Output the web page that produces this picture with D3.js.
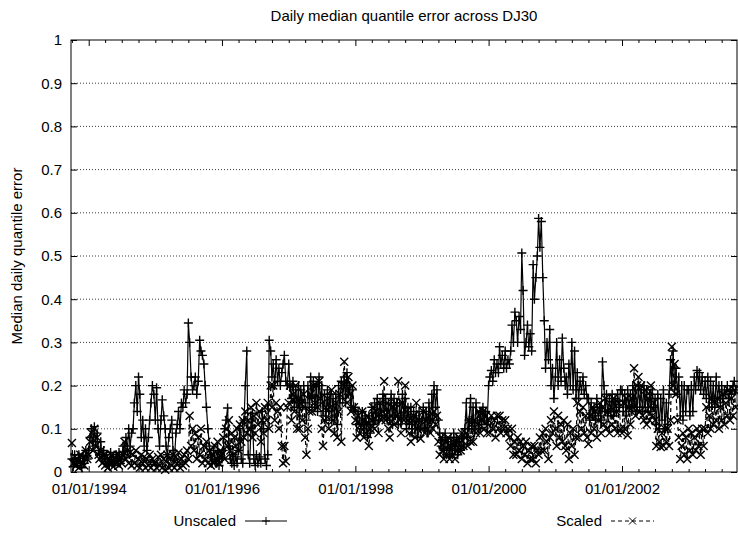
<!DOCTYPE html>
<html>
<head>
<meta charset="utf-8">
<script src="https://cdn.jsdelivr.net/npm/d3@7"></script>
<style>
  html, body { margin: 0; padding: 0; background: #fff; }
  svg { display: block; font-family: "Liberation Sans", Arial, Helvetica, sans-serif; }
</style>
</head>
<body>
<svg id="chart" width="738" height="533"></svg>
<script>
// Median daily quantile error across DJ30, read four times a month (days 1, 8, 16, 24).
// Each yearly array starts in January, except 1993 which starts in October.
const unscaled1993 = [0.03, 0.012, 0.04, 0.02, 0.015, 0.04, 0.025, 0.01, 0.035, 0.02, 0.05, 0.03];
const unscaled1994 = [0.05, 0.08, 0.1, 0.06, 0.105, 0.07, 0.09, 0.05, 0.04, 0.07, 0.03, 0.05,
  0.02, 0.04, 0.025, 0.015, 0.045, 0.02, 0.035, 0.015, 0.04, 0.025, 0.045, 0.02,
  0.03, 0.06, 0.04, 0.08, 0.05, 0.1, 0.06, 0.09, 0.1, 0.16, 0.2, 0.14,
  0.22, 0.18, 0.08, 0.12, 0.06, 0.1, 0.05, 0.08, 0.12, 0.16, 0.2, 0.18];
const unscaled1995 = [0.12, 0.195, 0.1, 0.06, 0.12, 0.167, 0.13, 0.1, 0.06, 0.04, 0.08, 0.1,
  0.12, 0.05, 0.03, 0.09, 0.11, 0.14, 0.1, 0.16, 0.15, 0.19, 0.16, 0.18,
  0.345, 0.3, 0.22, 0.19, 0.2, 0.22, 0.18, 0.21, 0.305, 0.28, 0.27, 0.25,
  0.2, 0.15, 0.1, 0.06, 0.04, 0.02, 0.05, 0.03, 0.02, 0.045, 0.015, 0.04];
const unscaled1996 = [0.03, 0.05, 0.1, 0.12, 0.148, 0.06, 0.03, 0.02, 0.04, 0.015, 0.035, 0.02,
  0.05, 0.1, 0.03, 0.02, 0.12, 0.2, 0.28, 0.04, 0.02, 0.1, 0.136, 0.03,
  0.015, 0.04, 0.02, 0.035, 0.02, 0.14, 0.1, 0.03, 0.015, 0.04, 0.305, 0.28,
  0.22, 0.25, 0.2, 0.26, 0.21, 0.24, 0.2, 0.23, 0.25, 0.27, 0.21, 0.2];
const unscaled1997 = [0.25, 0.2, 0.17, 0.21, 0.15, 0.19, 0.16, 0.2, 0.13, 0.19, 0.15, 0.2,
  0.16, 0.12, 0.2, 0.15, 0.22, 0.17, 0.21, 0.15, 0.2, 0.14, 0.22, 0.16,
  0.2, 0.13, 0.18, 0.12, 0.19, 0.14, 0.18, 0.12, 0.17, 0.13, 0.18, 0.11,
  0.2, 0.16, 0.21, 0.17, 0.22, 0.16, 0.23, 0.18, 0.2, 0.15, 0.19, 0.14];
const unscaled1998 = [0.15, 0.11, 0.14, 0.12, 0.1, 0.14, 0.09, 0.13, 0.11, 0.08, 0.13, 0.09,
  0.15, 0.11, 0.16, 0.12, 0.17, 0.12, 0.16, 0.13, 0.18, 0.13, 0.17, 0.12,
  0.16, 0.12, 0.18, 0.11, 0.17, 0.13, 0.16, 0.11, 0.16, 0.12, 0.18, 0.13,
  0.17, 0.1, 0.15, 0.11, 0.15, 0.09, 0.14, 0.1, 0.13, 0.08, 0.14, 0.1];
const unscaled1999 = [0.12, 0.15, 0.1, 0.14, 0.09, 0.16, 0.12, 0.18, 0.13, 0.2, 0.15, 0.19,
  0.12, 0.09, 0.06, 0.08, 0.05, 0.09, 0.04, 0.07, 0.05, 0.08, 0.04, 0.09,
  0.05, 0.08, 0.04, 0.07, 0.05, 0.09, 0.06, 0.1, 0.16, 0.08, 0.12, 0.17,
  0.1, 0.15, 0.09, 0.16, 0.12, 0.1, 0.14, 0.11, 0.15, 0.12, 0.14, 0.11];
const unscaled2000 = [0.2, 0.22, 0.235, 0.21, 0.26, 0.23, 0.25, 0.23, 0.29, 0.25, 0.27, 0.24,
  0.28, 0.24, 0.26, 0.25, 0.28, 0.34, 0.3, 0.37, 0.35, 0.3, 0.36, 0.33,
  0.507, 0.42, 0.27, 0.3, 0.34, 0.29, 0.32, 0.28, 0.48, 0.4, 0.45, 0.5,
  0.587, 0.52, 0.58, 0.45, 0.35, 0.24, 0.3, 0.26, 0.33, 0.2, 0.24, 0.17];
const unscaled2001 = [0.22, 0.3, 0.2, 0.26, 0.21, 0.31, 0.24, 0.2, 0.22, 0.18, 0.25, 0.2,
  0.3, 0.19, 0.28, 0.17, 0.23, 0.17, 0.21, 0.19, 0.22, 0.18, 0.2, 0.17,
  0.17, 0.12, 0.16, 0.13, 0.15, 0.12, 0.17, 0.13, 0.15, 0.12, 0.255, 0.2,
  0.14, 0.18, 0.13, 0.17, 0.14, 0.18, 0.13, 0.17, 0.14, 0.18, 0.15, 0.19];
const unscaled2002 = [0.19, 0.14, 0.18, 0.13, 0.19, 0.15, 0.18, 0.14, 0.2, 0.15, 0.19, 0.14,
  0.2, 0.15, 0.19, 0.14, 0.2, 0.15, 0.19, 0.14, 0.18, 0.14, 0.19, 0.15,
  0.17, 0.11, 0.18, 0.1, 0.17, 0.12, 0.19, 0.1, 0.16, 0.11, 0.18, 0.26,
  0.2, 0.28, 0.19, 0.24, 0.18, 0.22, 0.13, 0.2, 0.12, 0.2, 0.14, 0.19];
const unscaled2003 = [0.19, 0.13, 0.2, 0.14, 0.22, 0.19, 0.235, 0.2, 0.23, 0.19, 0.22, 0.18,
  0.21, 0.17, 0.22, 0.15, 0.21, 0.16, 0.2, 0.15, 0.22, 0.17, 0.2, 0.16,
  0.2, 0.17, 0.19, 0.18, 0.2, 0.17, 0.19, 0.18, 0.2, 0.21, 0.19];

const scaled1993 = [0.067, 0.02, 0.035, 0.015, 0.03, 0.01, 0.04, 0.02, 0.035, 0.015, 0.05, 0.03];
const scaled1994 = [0.04, 0.07, 0.09, 0.05, 0.1, 0.06, 0.08, 0.04, 0.03, 0.05, 0.02, 0.04,
  0.015, 0.035, 0.01, 0.03, 0.02, 0.04, 0.012, 0.03, 0.02, 0.04, 0.015, 0.035,
  0.02, 0.04, 0.07, 0.03, 0.05, 0.02, 0.045, 0.015, 0.04, 0.02, 0.05, 0.015,
  0.03, 0.01, 0.04, 0.02, 0.035, 0.01, 0.03, 0.015, 0.04, 0.01, 0.03, 0.02];
const scaled1995 = [0.02, 0.01, 0.035, 0.015, 0.04, 0.01, 0.03, 0.005, 0.025, 0.04, 0.01, 0.03,
  0.015, 0.04, 0.01, 0.035, 0.02, 0.045, 0.01, 0.03, 0.015, 0.04, 0.02, 0.05,
  0.03, 0.13, 0.06, 0.1, 0.05, 0.09, 0.03, 0.08, 0.04, 0.1, 0.02, 0.06,
  0.03, 0.07, 0.02, 0.05, 0.015, 0.04, 0.02, 0.06, 0.03, 0.07, 0.02, 0.05];
const scaled1996 = [0.04, 0.08, 0.03, 0.1, 0.06, 0.12, 0.05, 0.09, 0.04, 0.08, 0.06, 0.1,
  0.05, 0.11, 0.07, 0.12, 0.08, 0.14, 0.09, 0.12, 0.1, 0.15, 0.08, 0.13,
  0.09, 0.16, 0.11, 0.14, 0.07, 0.12, 0.09, 0.15, 0.12, 0.16, 0.1, 0.2,
  0.15, 0.2, 0.12, 0.16, 0.14, 0.1, 0.15, 0.06, 0.02, 0.06, 0.025, 0.15];
const scaled1997 = [0.16, 0.2, 0.12, 0.18, 0.14, 0.2, 0.1, 0.17, 0.1, 0.16, 0.12, 0.18,
  0.08, 0.04, 0.1, 0.14, 0.18, 0.14, 0.2, 0.16, 0.2, 0.15, 0.21, 0.17,
  0.1, 0.06, 0.12, 0.15, 0.17, 0.1, 0.15, 0.19, 0.12, 0.09, 0.16, 0.08,
  0.14, 0.18, 0.07, 0.2, 0.255, 0.2, 0.16, 0.22, 0.18, 0.14, 0.2, 0.15];
const scaled1998 = [0.12, 0.08, 0.13, 0.09, 0.11, 0.14, 0.08, 0.12, 0.09, 0.13, 0.06, 0.1,
  0.12, 0.15, 0.1, 0.14, 0.13, 0.09, 0.16, 0.12, 0.14, 0.21, 0.12, 0.16,
  0.1, 0.08, 0.13, 0.15, 0.11, 0.16, 0.13, 0.21, 0.12, 0.09, 0.16, 0.12,
  0.2, 0.14, 0.12, 0.09, 0.07, 0.12, 0.13, 0.08, 0.16, 0.1, 0.12, 0.077];
const scaled1999 = [0.1, 0.14, 0.09, 0.12, 0.1, 0.13, 0.09, 0.12, 0.1, 0.14, 0.11, 0.13,
  0.07, 0.04, 0.08, 0.05, 0.03, 0.07, 0.04, 0.08, 0.03, 0.06, 0.04, 0.07,
  0.03, 0.07, 0.05, 0.08, 0.05, 0.09, 0.06, 0.08, 0.09, 0.06, 0.12, 0.07,
  0.11, 0.07, 0.12, 0.09, 0.11, 0.14, 0.09, 0.12, 0.14, 0.1, 0.13, 0.09];
const scaled2000 = [0.12, 0.09, 0.13, 0.1, 0.12, 0.08, 0.13, 0.1, 0.13, 0.09, 0.12, 0.1,
  0.12, 0.09, 0.1, 0.08, 0.06, 0.1, 0.04, 0.07, 0.04, 0.08, 0.05, 0.07,
  0.03, 0.06, 0.04, 0.07, 0.02, 0.05, 0.03, 0.06, 0.03, 0.06, 0.02, 0.05,
  0.04, 0.08, 0.05, 0.09, 0.05, 0.1, 0.07, 0.03, 0.08, 0.12, 0.09, 0.14];
const scaled2001 = [0.1, 0.06, 0.13, 0.08, 0.11, 0.07, 0.12, 0.06, 0.05, 0.11, 0.03, 0.09,
  0.06, 0.1, 0.04, 0.08, 0.16, 0.08, 0.14, 0.1, 0.15, 0.09, 0.13, 0.08,
  0.065, 0.13, 0.09, 0.15, 0.1, 0.14, 0.08, 0.12, 0.16, 0.09, 0.15, 0.11,
  0.17, 0.1, 0.14, 0.09, 0.15, 0.11, 0.17, 0.1, 0.14, 0.09, 0.16, 0.1];
const scaled2002 = [0.09, 0.16, 0.1, 0.17, 0.085, 0.15, 0.11, 0.17, 0.15, 0.24, 0.13, 0.2,
  0.22, 0.14, 0.2, 0.13, 0.12, 0.19, 0.11, 0.17, 0.12, 0.2, 0.13, 0.16,
  0.12, 0.06, 0.1, 0.07, 0.058, 0.09, 0.06, 0.1, 0.07, 0.1, 0.06, 0.12,
  0.29, 0.2, 0.25, 0.18, 0.12, 0.08, 0.03, 0.06, 0.09, 0.04, 0.08, 0.03];
const scaled2003 = [0.1, 0.05, 0.09, 0.04, 0.08, 0.05, 0.1, 0.06, 0.09, 0.04, 0.1, 0.06,
  0.1, 0.15, 0.09, 0.13, 0.1, 0.17, 0.11, 0.16, 0.12, 0.17, 0.1, 0.15,
  0.12, 0.18, 0.11, 0.16, 0.13, 0.19, 0.12, 0.17, 0.13, 0.19, 0.15];

const yTicks = [0, 0.1, 0.2, 0.3, 0.4, 0.5, 0.6, 0.7, 0.8, 0.9, 1];
const xTickYears = [1994, 1996, 1998, 2000, 2002];
const seriesNames = ["Unscaled", "Scaled"];
const titleText = "Daily median quantile error across DJ30";
const yLabelText = "Median daily quantile error";

const readingDays = [1, 8, 16, 24];

// Attach dates to one year's readings
function weekly(year, firstMonth, values) {
  return values.map((v, i) => ({
    date: new Date(Date.UTC(year, firstMonth + Math.floor(i / 4), readingDays[i % 4])),
    value: v
  }));
}

const unscaled = [].concat(
  weekly(1993, 9, unscaled1993), weekly(1994, 0, unscaled1994),
  weekly(1995, 0, unscaled1995), weekly(1996, 0, unscaled1996),
  weekly(1997, 0, unscaled1997), weekly(1998, 0, unscaled1998),
  weekly(1999, 0, unscaled1999), weekly(2000, 0, unscaled2000),
  weekly(2001, 0, unscaled2001), weekly(2002, 0, unscaled2002),
  weekly(2003, 0, unscaled2003));
const scaled = [].concat(
  weekly(1993, 9, scaled1993), weekly(1994, 0, scaled1994),
  weekly(1995, 0, scaled1995), weekly(1996, 0, scaled1996),
  weekly(1997, 0, scaled1997), weekly(1998, 0, scaled1998),
  weekly(1999, 0, scaled1999), weekly(2000, 0, scaled2000),
  weekly(2001, 0, scaled2001), weekly(2002, 0, scaled2002),
  weekly(2003, 0, scaled2003));

const svg = d3.select("#chart");
const plot = { left: 71, right: 737, top: 40, bottom: 472 };
const FONT = 15;

const x = d3.scaleUtc()
  .domain([new Date(Date.UTC(1993, 8, 26)), new Date(Date.UTC(2003, 8, 23))])
  .range([plot.left, plot.right]);
const y = d3.scaleLinear().domain([0, 1]).range([plot.bottom, plot.top]);

const majorDates = xTickYears.map(yr => new Date(Date.UTC(yr, 0, 1)));
const majorSet = new Set(majorDates.map(d => +d));
const minorDates = d3.utcMonth.every(3)
  .range(x.domain()[0], x.domain()[1])
  .filter(d => !majorSet.has(+d));
const fmtDate = d3.utcFormat("%m/%d/%Y");

// Dotted horizontal grid
svg.append("g")
  .selectAll("line")
  .data(yTicks.filter(t => t > 0 && t < 1))
  .join("line")
  .attr("x1", plot.left).attr("x2", plot.right)
  .attr("y1", d => y(d)).attr("y2", d => y(d))
  .attr("stroke", "#000").attr("stroke-width", 1)
  .attr("stroke-dasharray", "1,2")
  .attr("opacity", 0.75);

function styleAxis(g) {
  g.select(".domain").remove();
  g.selectAll(".tick line").attr("stroke", "#000").attr("stroke-width", 1);
  g.selectAll("text").attr("font-size", FONT).attr("fill", "#000")
    .attr("font-family", "'Liberation Sans', Arial, Helvetica, sans-serif");
}

// Bottom axis: labelled majors every two years, quarterly minors
svg.append("g").attr("transform", `translate(0,${plot.bottom})`)
  .call(d3.axisBottom(x).tickValues(majorDates).tickSize(-6).tickPadding(11.5).tickFormat(fmtDate))
  .call(styleAxis);
svg.append("g").attr("transform", `translate(0,${plot.bottom})`)
  .call(d3.axisBottom(x).tickValues(minorDates).tickSize(-3).tickFormat(""))
  .call(styleAxis);
// Mirrored ticks on top
svg.append("g").attr("transform", `translate(0,${plot.top})`)
  .call(d3.axisTop(x).tickValues(majorDates).tickSize(-6).tickFormat(""))
  .call(styleAxis);
svg.append("g").attr("transform", `translate(0,${plot.top})`)
  .call(d3.axisTop(x).tickValues(minorDates).tickSize(-3).tickFormat(""))
  .call(styleAxis);

// Left axis with labels, mirrored ticks on the right
svg.append("g").attr("transform", `translate(${plot.left},0)`)
  .call(d3.axisLeft(y).tickValues(yTicks).tickSize(-6).tickPadding(9).tickFormat(d3.format("~g")))
  .call(styleAxis);
svg.append("g").attr("transform", `translate(${plot.right},0)`)
  .call(d3.axisRight(y).tickValues(yTicks).tickSize(-6).tickFormat(""))
  .call(styleAxis);

// Plot border
svg.append("rect")
  .attr("x", plot.left).attr("y", plot.top)
  .attr("width", plot.right - plot.left).attr("height", plot.bottom - plot.top)
  .attr("fill", "none").attr("stroke", "#000").attr("stroke-width", 1);

// Series: connecting line plus a marker at every reading
const line = d3.line().x(d => x(d.date)).y(d => y(d.value));
const plusPath = "M-4.5,0H4.5M0,-4.5V4.5";
const crossPath = "M-4,-4L4,4M-4,4L4,-4";

const layers = [
  { data: unscaled, dash: null, marker: plusPath },
  { data: scaled, dash: "4,3", marker: crossPath }
];

layers.forEach(s => {
  const g = svg.append("g");
  g.append("path")
    .datum(s.data)
    .attr("d", line)
    .attr("fill", "none")
    .attr("stroke", "#000")
    .attr("stroke-width", 1.2)
    .attr("stroke-dasharray", s.dash);
  g.selectAll("path.pt")
    .data(s.data)
    .join("path")
    .attr("class", "pt")
    .attr("transform", d => `translate(${x(d.date)},${y(d.value)})`)
    .attr("d", s.marker)
    .attr("fill", "none")
    .attr("stroke", "#000")
    .attr("stroke-width", 1.4);
});

// Title and y label
svg.append("text")
  .attr("x", (plot.left + plot.right) / 2).attr("y", 21)
  .attr("text-anchor", "middle").attr("font-size", FONT)
  .text(titleText);
svg.append("text")
  .attr("transform", `translate(22,${(plot.top + plot.bottom) / 2}) rotate(-90)`)
  .attr("text-anchor", "middle").attr("font-size", FONT)
  .text(yLabelText);

// Legend
const legendY = 521;
const legend = [
  { name: seriesNames[0], textEnd: 236, x1: 245, x2: 287, dash: null, marker: "M-4,0H4M0,-4V4" },
  { name: seriesNames[1], textEnd: 602, x1: 611, x2: 654, dash: "4,3", marker: "M-3.5,-3.5L3.5,3.5M-3.5,3.5L3.5,-3.5" }
];
legend.forEach(k => {
  svg.append("text")
    .attr("x", k.textEnd).attr("y", legendY + 5)
    .attr("text-anchor", "end").attr("font-size", FONT)
    .text(k.name);
  svg.append("line")
    .attr("x1", k.x1).attr("x2", k.x2).attr("y1", legendY).attr("y2", legendY)
    .attr("stroke", "#000").attr("stroke-width", 1)
    .attr("stroke-dasharray", k.dash);
  svg.append("path")
    .attr("transform", `translate(${(k.x1 + k.x2) / 2},${legendY})`)
    .attr("d", k.marker)
    .attr("fill", "none").attr("stroke", "#000").attr("stroke-width", 1);
});
</script>
</body>
</html>
